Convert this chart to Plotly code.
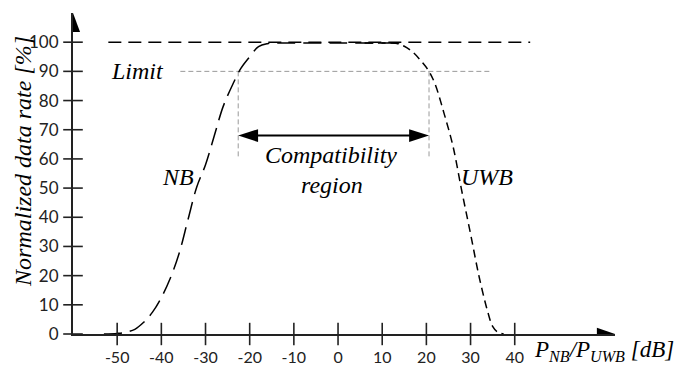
import plotly.graph_objects as go

# ---- data ----
x_ticks = [-50, -40, -30, -20, -10, 0, 10, 20, 30, 40]
y_ticks = [0, 10, 20, 30, 40, 50, 60, 70, 80, 90, 100]

nb_x = [-53, -50, -48, -46, -44, -42, -40, -38, -36, -34, -32, -30, -28, -26, -24, -22, -20, -18, -16, -14, -10, 0, 10, 14]
nb_y = [0, 0.2, 0.6, 1.6, 4.0, 7.5, 12.5, 19, 27.5, 39, 50.3, 58, 68, 78, 85, 91, 95, 98.5, 99.5, 99.7, 99.7, 99.7, 99.7, 99.7]

uwb_x = [6, 10, 13, 15, 17, 19, 20.6, 22, 24, 26, 28, 30, 32, 34, 35, 36, 37.5]
uwb_y = [99.7, 99.7, 99.6, 98.6, 96.5, 93.2, 90, 85.5, 75.6, 64.5, 49.1, 34.3, 19.2, 7.0, 2.6, 0.8, 0]

full_rate = 100
full_x = [-52, 43.5]
limit_rate = 90
limit_x = [-35.7, 34.4]
compat_left = -22.6
compat_right = 20.6
compat_bottom = 60
compat_arrow_y = 68

x_min, x_max = -60, 62.7
y_min, y_max = 0, 110

SERIF = "Liberation Serif"
SANS = "Lato"

fig = go.Figure()

# reference dashed lines
fig.add_trace(go.Scatter(x=full_x, y=[full_rate, full_rate], mode="lines",
                         line=dict(color="black", width=1.6, dash="13px,7px"), hoverinfo="skip"))
fig.add_trace(go.Scatter(x=limit_x, y=[limit_rate, limit_rate], mode="lines",
                         line=dict(color="#9a9a9a", width=1, dash="5px,3px"), hoverinfo="skip"))
for xv in (compat_left, compat_right):
    fig.add_trace(go.Scatter(x=[xv, xv], y=[limit_rate, compat_bottom], mode="lines",
                             line=dict(color="#9a9a9a", width=1, dash="5px,3px"), hoverinfo="skip"))

# curves
fig.add_trace(go.Scatter(x=nb_x, y=nb_y, mode="lines", line_shape="spline",
                         line=dict(color="black", width=1.5, dash="18px,8px"), hoverinfo="skip"))
fig.add_trace(go.Scatter(x=uwb_x, y=uwb_y, mode="lines", line_shape="spline",
                         line=dict(color="black", width=1.5, dash="8px,5px"), hoverinfo="skip"))

# crossing tick marks
fig.add_trace(go.Scatter(x=x_ticks, y=[0] * len(x_ticks), mode="markers", cliponaxis=False,
                         marker=dict(symbol="line-ns-open", size=16, color="#222",
                                     line=dict(width=1.6, color="#222")), hoverinfo="skip"))
fig.add_trace(go.Scatter(x=[x_min] * len(y_ticks), y=y_ticks, mode="markers", cliponaxis=False,
                         marker=dict(symbol="line-ew-open", size=14, color="#222",
                                     line=dict(width=1.6, color="#222")), hoverinfo="skip"))

shapes = []
# axis arrowheads
ax_len_x, ax_half_x = 4.1, 2.1
shapes.append(dict(type="path", xref="x", yref="y", fillcolor="black", line=dict(width=0),
                   path=f"M {x_max-ax_len_x},{-ax_half_x} L {x_max},0 L {x_max-ax_len_x},{ax_half_x} Z"))
ay_len, ay_half = 6.5, 1.6
shapes.append(dict(type="path", xref="x", yref="y", fillcolor="black", line=dict(width=0),
                   path=f"M {x_min-ay_half},{y_max-ay_len} L {x_min},{y_max} L {x_min+ay_half},{y_max-ay_len} Z"))
# compatibility double arrow
h_len, h_half = 4.5, 2.2
shapes.append(dict(type="line", xref="x", yref="y", x0=compat_left + h_len * 0.5, x1=compat_right - h_len * 0.5,
                   y0=compat_arrow_y, y1=compat_arrow_y, line=dict(color="black", width=2)))
shapes.append(dict(type="path", xref="x", yref="y", fillcolor="black", line=dict(width=0),
                   path=f"M {compat_left+h_len},{compat_arrow_y-h_half} L {compat_left},{compat_arrow_y} L {compat_left+h_len},{compat_arrow_y+h_half} Z"))
shapes.append(dict(type="path", xref="x", yref="y", fillcolor="black", line=dict(width=0),
                   path=f"M {compat_right-h_len},{compat_arrow_y-h_half} L {compat_right},{compat_arrow_y} L {compat_right-h_len},{compat_arrow_y+h_half} Z"))

ann_font = dict(family=SERIF, size=24, color="black", style="italic")
annotations = [
    dict(x=-45.5, y=limit_rate, text="Limit", showarrow=False, font=ann_font, xanchor="center", yanchor="middle"),
    dict(x=-36.2, y=53.8, text="NB", showarrow=False, font=ann_font, xanchor="center", yanchor="middle"),
    dict(x=33.7, y=53.8, text="UWB", showarrow=False, font=ann_font, xanchor="center", yanchor="middle"),
    dict(x=-1.6, y=61.3, text="Compatibility", showarrow=False, font=ann_font, xanchor="center", yanchor="middle"),
    dict(x=-1.3, y=51.0, text="region", showarrow=False, font=ann_font, xanchor="center", yanchor="middle"),
    dict(x=-0.092, y=59, xref="paper", yref="y", text="Normalized data rate [%]", showarrow=False,
         textangle=-90, font=dict(family=SERIF, size=24, color="black", style="italic"),
         xanchor="center", yanchor="middle"),
    dict(x=(532 - 73) / 542, y=-(351 - 334) / 321, xref="paper", yref="paper",
         text="P<sub>NB</sub>/P<sub>UWB</sub> [dB]", showarrow=False,
         font=dict(family=SERIF, size=23, color="black", style="italic"), xanchor="left", yanchor="middle"),
]

fig.update_layout(
    width=688, height=367,
    margin=dict(l=73, r=73, t=13, b=33, autoexpand=False),
    plot_bgcolor="white", paper_bgcolor="white",
    showlegend=False,
    shapes=shapes,
    annotations=annotations,
    xaxis=dict(range=[x_min, x_max], showgrid=False, zeroline=False, showline=True, automargin=False,
               linecolor="#222", linewidth=2, tickvals=x_ticks, ticktext=[str(v) for v in x_ticks],
               ticks="", ticklabelstandoff=8, tickfont=dict(family=SANS, size=16, color="#222")),
    yaxis=dict(range=[y_min, y_max], showgrid=False, zeroline=False, showline=True, automargin=False,
               linecolor="#222", linewidth=2, tickvals=y_ticks, ticktext=[str(v) for v in y_ticks],
               ticks="", ticklabelstandoff=9, tickfont=dict(family=SANS, size=17, color="#222")),
)

fig.write_html("out.html", config={"displayModeBar": False},
               post_script="document.body.style.margin='0';")
